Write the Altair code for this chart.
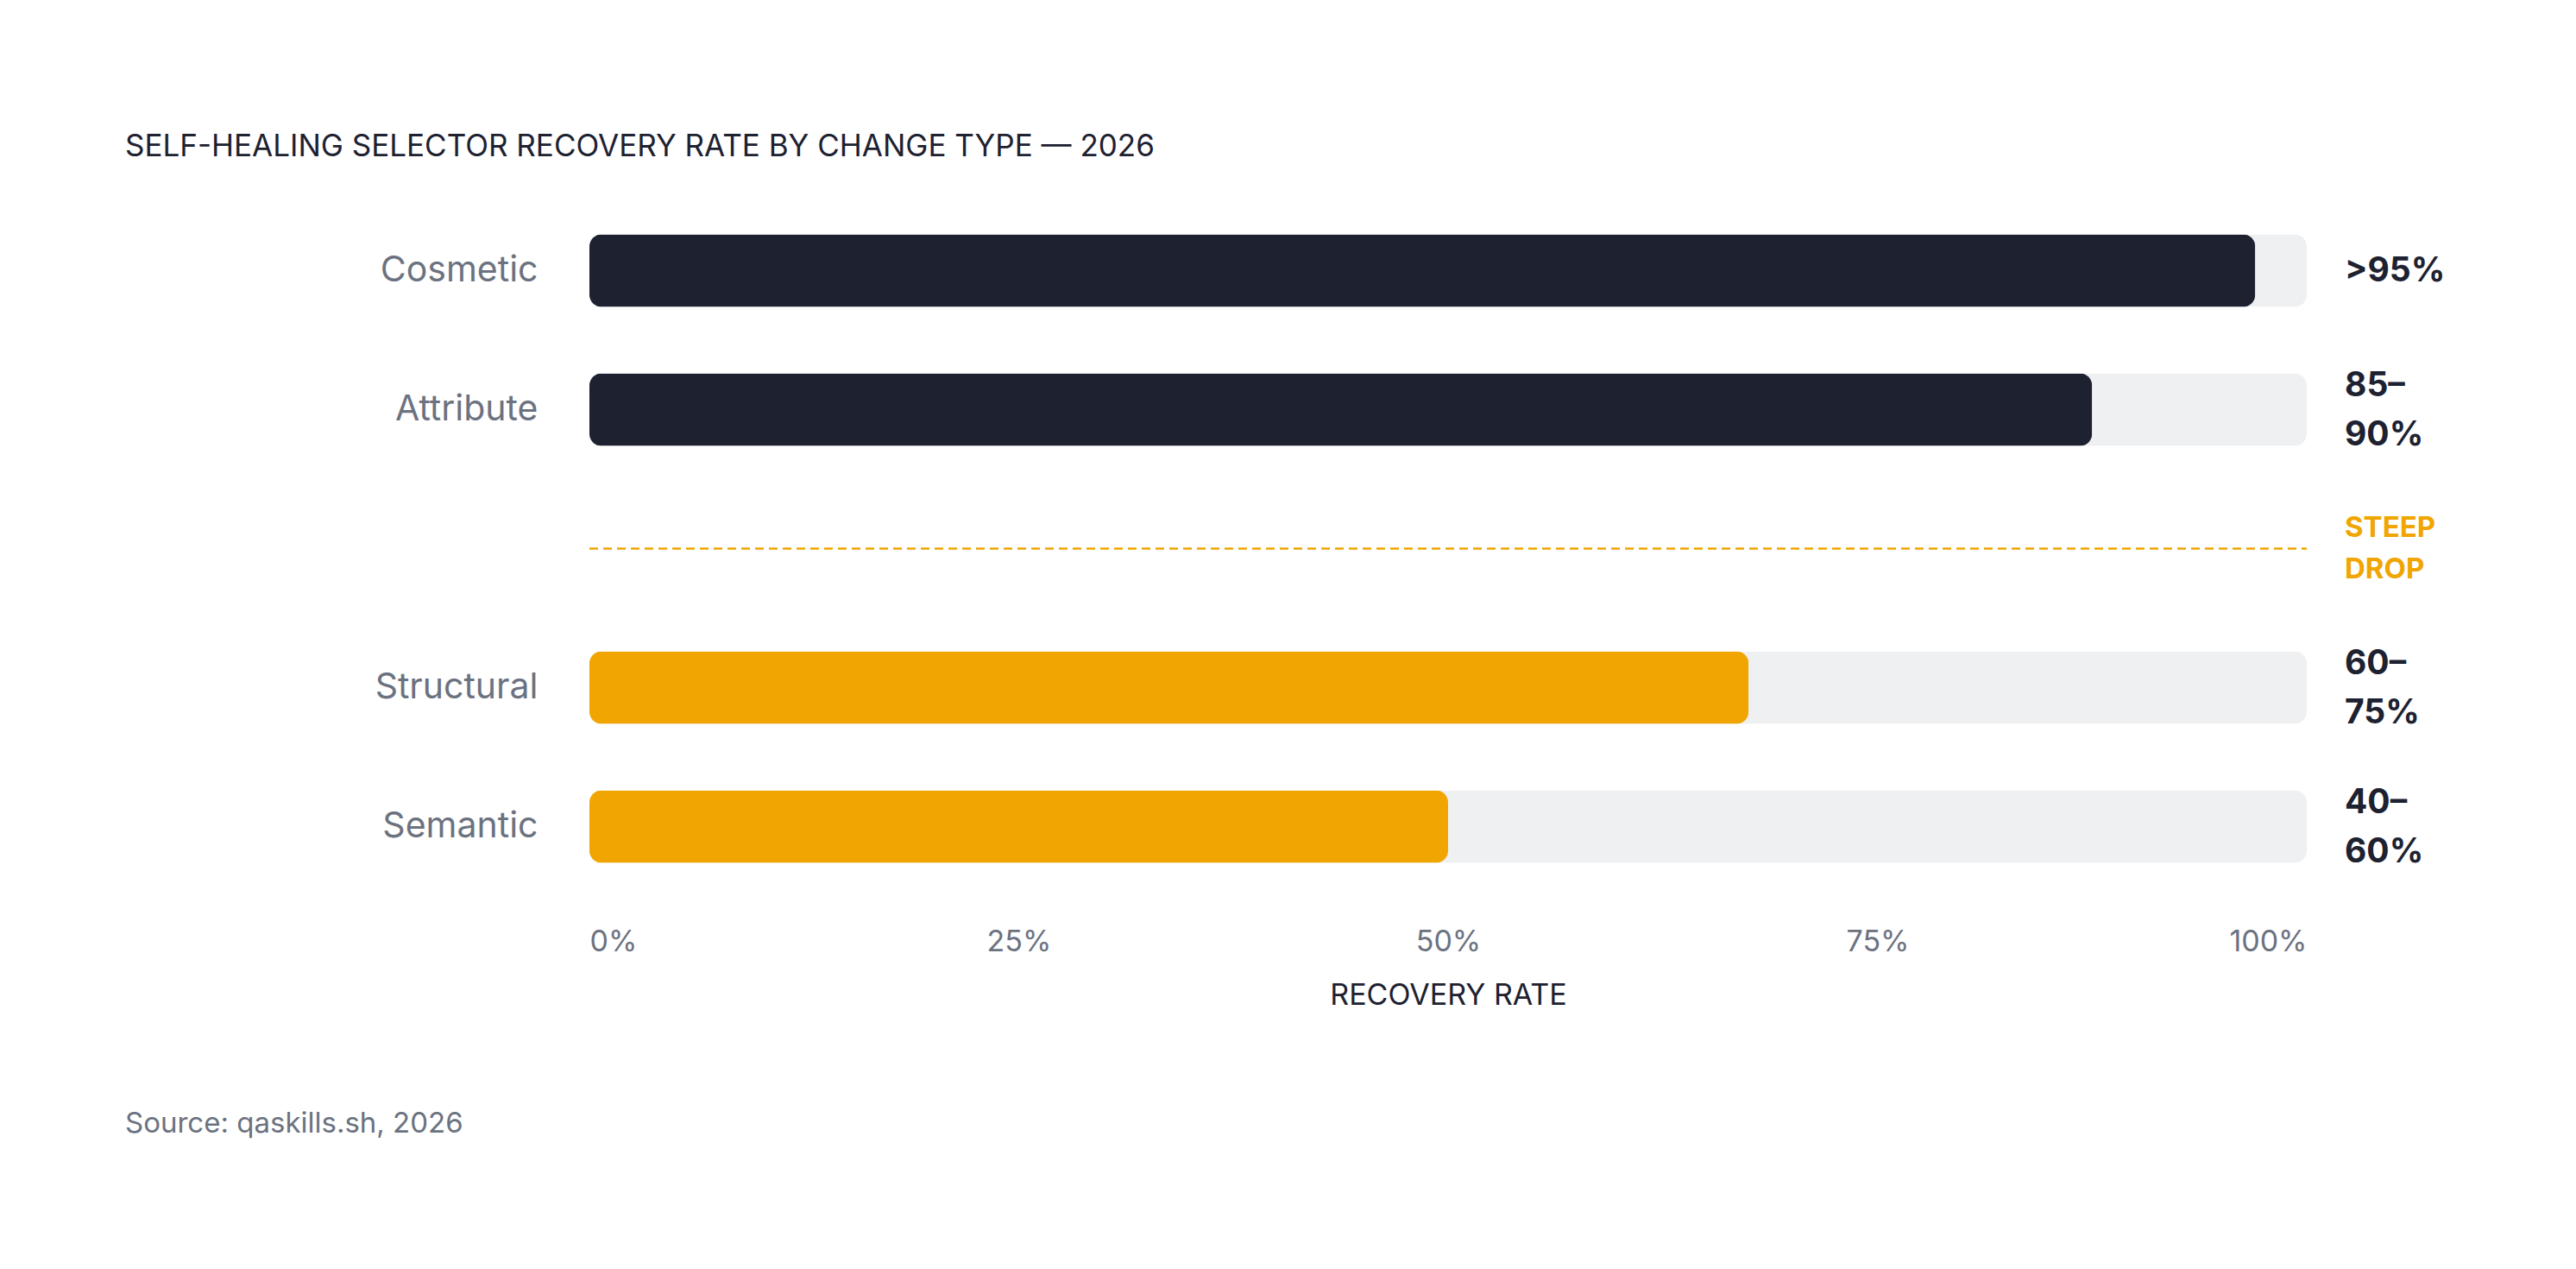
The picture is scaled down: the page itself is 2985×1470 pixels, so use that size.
import altair as alt
import pandas as pd

# ---- data ----
categories = ["Cosmetic", "Attribute", "Structural", "Semantic"]
recovery = [97, 87.5, 67.5, 50]
range_labels = [">95%", "85–90%", "60–75%", "40–60%"]
tiers = ["high", "high", "low", "low"]
divider_label = "STEEP DROP"
row_order = ["Cosmetic", "Attribute", divider_label, "Structural", "Semantic"]
x_ticks = [0, 25, 50, 75, 100]
title_text = "SELF-HEALING SELECTOR RECOVERY RATE BY CHANGE TYPE — 2026"
axis_title = "RECOVERY RATE"
source_text = "Source: qaskills.sh, 2026"

DARK = "#1d2130"
ORANGE = "#f0a500"
TRACK = "#eff0f2"
GRAY = "#6b7280"
FONT = "Inter"

df = pd.DataFrame({
    "category": categories,
    "recovery": recovery,
    "label": range_labels,
    "tier": tiers,
})
div_df = pd.DataFrame({"category": [divider_label], "note": [divider_label]})
src_df = pd.DataFrame({"note": [source_text]})

y_enc = alt.Y(
    "category:N",
    sort=row_order,
    scale=alt.Scale(domain=row_order, paddingInner=0.478, paddingOuter=0.239),
    axis=alt.Axis(
        title=None,
        ticks=False,
        domain=False,
        grid=False,
        labelFont=FONT,
        labelFontSize=41,
        labelColor=GRAY,
        labelPadding=60,
        labelLimit=500,
        labelExpr=f"datum.value == '{divider_label}' ? '' : datum.value",
    ),
)

x_scale = alt.Scale(domain=[0, 100], nice=False, zero=True)

base = alt.Chart(df)

track = base.mark_bar(cornerRadius=14, color=TRACK).transform_calculate(
    full="100"
).encode(
    x=alt.X(
        "full:Q",
        scale=x_scale,
        axis=alt.Axis(
            values=x_ticks,
            labelExpr="datum.value + '%'",
            labelFlush=True,
            ticks=False,
            domain=False,
            grid=False,
            labelFont=FONT,
            labelFontSize=34,
            labelColor=GRAY,
            labelPadding=36,
            title=axis_title,
            titleFont=FONT,
            titleFontSize=34,
            titleFontWeight=400,
            titleColor=DARK,
            titlePadding=28,
        ),
    ),
    y=y_enc,
)

bars = base.mark_bar(cornerRadius=14).encode(
    x=alt.X("recovery:Q", scale=x_scale),
    y=y_enc,
    color=alt.Color(
        "tier:N",
        scale=alt.Scale(domain=["high", "low"], range=[DARK, ORANGE]),
        legend=None,
    ),
)

values = base.mark_text(
    align="left",
    baseline="middle",
    dx=44,
    dy=alt.expr("indexof(datum.label2, '\\n') >= 0 ? -28 : 0"),
    font=FONT,
    fontSize=39,
    fontWeight=700,
    color=DARK,
    lineBreak="\n",
    lineHeight=57,
).transform_calculate(
    label2="replace(datum.label, '–', '–\\n')"
).encode(
    x=alt.datum(100),
    y=y_enc,
    text="label2:N",
)

rule = alt.Chart(div_df).mark_rule(
    color=ORANGE, strokeDash=[10, 6], strokeWidth=2.5
).encode(
    x=alt.datum(0),
    x2=alt.datum(100),
    y=y_enc,
)

drop_text = alt.Chart(div_df).mark_text(
    align="left",
    baseline="middle",
    dx=44,
    dy=-24,
    font=FONT,
    fontSize=33,
    fontWeight=700,
    color=ORANGE,
    lineBreak=" ",
    lineHeight=48,
).encode(
    x=alt.datum(100),
    y=y_enc,
    text="note:N",
)

source = alt.Chart(src_df).mark_text(
    align="left",
    baseline="middle",
    font=FONT,
    fontSize=33,
    color=GRAY,
).encode(
    x=alt.value(-538),
    y=alt.value(1069),
    text="note:N",
)

chart = alt.layer(track, bars, values, rule, drop_text, source).properties(
    width=1990,
    height=805,
    title=alt.Title(
        title_text,
        anchor="start",
        frame="group",
        dx=-538,
        offset=10,
        baseline="bottom",
        font=FONT,
        fontSize=35,
        fontWeight=400,
        color=DARK,
    ),
    background="white",
    autosize=alt.AutoSizeParams(type="none"),
    padding={"left": 675, "top": 225, "right": 300, "bottom": 400},
).configure_view(stroke=None)

chart.save("out.html", embed_options={"renderer": "svg", "actions": False})
